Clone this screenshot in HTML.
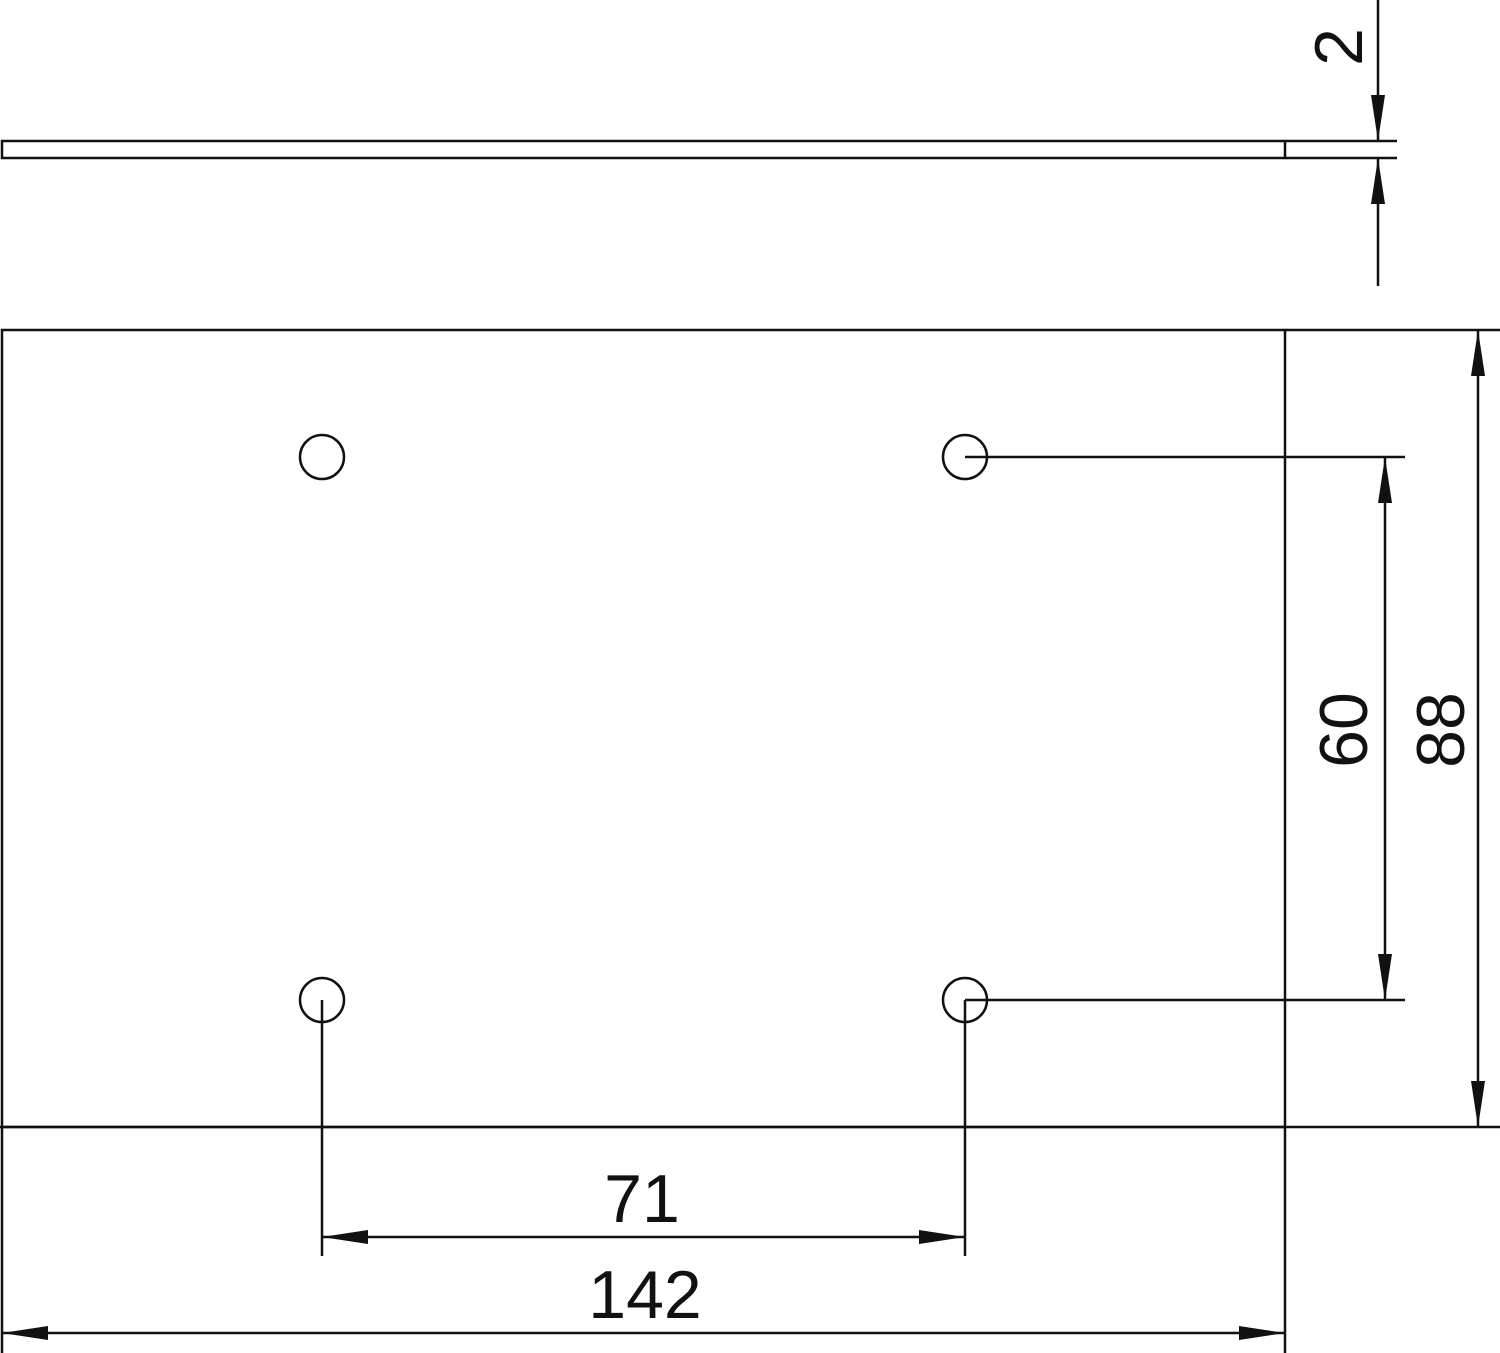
<!DOCTYPE html>
<html><head><style>html,body{margin:0;padding:0;background:#fff}svg{display:block}</style></head><body>
<svg width="1500" height="1353" viewBox="0 0 1500 1353" xmlns="http://www.w3.org/2000/svg">
<defs>
<marker id="a" markerWidth="46" markerHeight="16" refX="46" refY="8" orient="auto" markerUnits="userSpaceOnUse"><path d="M0,1 L46,8 L0,15 Z" fill="#111"/></marker>
</defs>
<g stroke="#111" stroke-width="2.5" fill="none">
<rect x="2" y="141" width="1283" height="17"/>
<line x1="1285" y1="141" x2="1397" y2="141"/>
<line x1="1285" y1="158" x2="1397" y2="158"/>
<line x1="1378" y1="0" x2="1378" y2="141" marker-end="url(#a)"/>
<line x1="1378" y1="286" x2="1378" y2="158" marker-end="url(#a)"/>
<rect x="2" y="330" width="1283" height="797"/>
<line x1="1285" y1="330" x2="1500" y2="330"/>
<line x1="0" y1="1127" x2="1500" y2="1127"/>
<line x1="1478" y1="730" x2="1478" y2="330" marker-end="url(#a)"/>
<line x1="1478" y1="730" x2="1478" y2="1127" marker-end="url(#a)"/>
<circle cx="322" cy="457" r="22"/>
<circle cx="965" cy="457" r="22"/>
<circle cx="322" cy="1000" r="22"/>
<circle cx="965" cy="1000" r="22"/>
<line x1="965" y1="457" x2="1405" y2="457"/>
<line x1="965" y1="1000" x2="1405" y2="1000"/>
<line x1="1385" y1="730" x2="1385" y2="457" marker-end="url(#a)"/>
<line x1="1385" y1="730" x2="1385" y2="1000" marker-end="url(#a)"/>
<line x1="322" y1="1000" x2="322" y2="1256"/>
<line x1="965" y1="1000" x2="965" y2="1256"/>
<line x1="640" y1="1237" x2="322" y2="1237" marker-end="url(#a)"/>
<line x1="640" y1="1237" x2="965" y2="1237" marker-end="url(#a)"/>
<line x1="2" y1="1127" x2="2" y2="1353"/>
<line x1="1285" y1="1127" x2="1285" y2="1353"/>
<line x1="640" y1="1333" x2="2" y2="1333" marker-end="url(#a)"/>
<line x1="640" y1="1333" x2="1285" y2="1333" marker-end="url(#a)"/>
</g>
<g font-family="Liberation Sans, sans-serif" font-size="68" fill="#111" text-anchor="middle">
<text x="642" y="1222">71</text>
<text x="645" y="1318">142</text>
<text transform="translate(1362,47) rotate(-90)">2</text>
<text transform="translate(1367,730) rotate(-90)">60</text>
<text transform="translate(1464,730) rotate(-90)">88</text>
</g>
</svg>
</body></html>
